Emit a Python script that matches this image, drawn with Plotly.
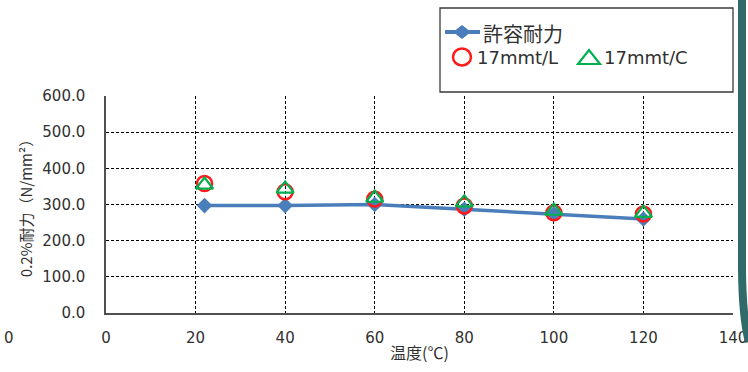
import plotly.graph_objects as go

# Temperature (°C) and 0.2% proof stress (N/mm²)
temp_allow = [22, 40, 60, 80, 100, 120]
allowable = [297, 297, 300, 287, 274, 260]

temp_test = [22, 40, 60, 80, 100, 120]
stress_L = [358, 335, 315, 296, 277, 274]
stress_C = [354, 343, 318, 305, 282, 276]

x_ticks = [0, 20, 40, 60, 80, 100, 120, 140]
y_ticks = [0, 100, 200, 300, 400, 500, 600]

W, H = 748, 372
ML, MR, MT, MB = 106, 15, 96, 59
PW, PH = W - ML - MR, H - MT - MB

BLUE = "#4A7EBB"
RED = "#FF1A1A"
GREEN = "#00B050"
TEXT = "#303030"
NUM_FONT = "DejaVu Sans"
JP_FONT = "Noto Sans CJK JP"


def px(x):
    return (x - ML) / PW


def py(y):
    return (H - MB - y) / PH


fig = go.Figure()

fig.add_trace(go.Scatter(
    x=temp_allow, y=allowable, mode="lines+markers", name="許容耐力",
    line=dict(color=BLUE, width=3.5),
    marker=dict(symbol="diamond", size=12, color=BLUE),
    showlegend=False,
))
fig.add_trace(go.Scatter(
    x=temp_test, y=stress_L, mode="markers", name="17mmt/L",
    marker=dict(symbol="circle-open", size=15, color=RED, line=dict(width=2.5, color=RED)),
    showlegend=False,
))
fig.add_trace(go.Scatter(
    x=temp_test, y=stress_C, mode="markers", name="17mmt/C",
    marker=dict(symbol="triangle-up-open", size=15, color=GREEN, line=dict(width=2.2, color=GREEN)),
    showlegend=False,
))

shapes = []
annotations = []

# Legend box
shapes.append(dict(type="rect", xref="paper", yref="paper",
                   x0=px(440), x1=px(733), y0=py(92), y1=py(8),
                   line=dict(color="#3A3A3A", width=1.3), fillcolor="white", layer="above"))
# Legend: allowable stress (line + diamond)
shapes.append(dict(type="line", xref="paper", yref="paper",
                   x0=px(445), x1=px(480), y0=py(32), y1=py(32),
                   line=dict(color=BLUE, width=4), layer="above"))
cx, cy = 462, 32
shapes.append(dict(type="path", xref="paper", yref="paper",
                   path=f"M {px(cx-9)},{py(cy)} L {px(cx)},{py(cy-7)} L {px(cx+9)},{py(cy)} L {px(cx)},{py(cy+7)} Z",
                   fillcolor=BLUE, line=dict(width=0), layer="above"))
# Legend: circle
shapes.append(dict(type="circle", xref="paper", yref="paper",
                   x0=px(453), x1=px(471), y0=py(65.5), y1=py(48.5),
                   line=dict(color=RED, width=2.5), layer="above"))
# Legend: triangle
shapes.append(dict(type="path", xref="paper", yref="paper",
                   path=f"M {px(578)},{py(64)} L {px(600)},{py(64)} L {px(589)},{py(50)} Z",
                   line=dict(color=GREEN, width=2.2), layer="above"))

annotations.append(dict(x=px(481), y=py(33), xref="paper", yref="paper", text="許容耐力",
                        showarrow=False, xanchor="left", yanchor="middle",
                        font=dict(family=JP_FONT, size=20, color=TEXT)))
annotations.append(dict(x=px(475), y=py(57.5), xref="paper", yref="paper", text="17mmt/L",
                        showarrow=False, xanchor="left", yanchor="middle",
                        font=dict(family=NUM_FONT, size=18, color=TEXT)))
annotations.append(dict(x=px(602), y=py(57.5), xref="paper", yref="paper", text="17mmt/C",
                        showarrow=False, xanchor="left", yanchor="middle",
                        font=dict(family=NUM_FONT, size=18, color=TEXT)))

# Stray axis label at the left edge
annotations.append(dict(x=px(2), y=py(338), xref="paper", yref="paper", text="0",
                        showarrow=False, xanchor="left", yanchor="middle",
                        font=dict(family=NUM_FONT, size=15, color=TEXT)))

# Slide frame border on the right
shapes.append(dict(type="path", xref="paper", yref="paper",
                   path=f"M {px(742)},{py(-5)} L {px(742)},{py(270)} Q {px(742.5)},{py(318)} {px(749)},{py(342)}",
                   line=dict(color="#316B69", width=8), layer="above"))

fig.update_layout(
    width=W, height=H,
    margin=dict(l=ML, r=MR, t=MT, b=MB, pad=0, autoexpand=False),
    paper_bgcolor="white", plot_bgcolor="white",
    shapes=shapes, annotations=annotations,
    showlegend=False,
)

fig.update_xaxes(
    range=[0, 140], tickvals=x_ticks, ticktext=[str(v) for v in x_ticks],
    showgrid=True, gridcolor="black", gridwidth=1, griddash="3px,2px",
    showline=True, linecolor="#505050", linewidth=1.5, zeroline=False,
    ticks="", ticklabelstandoff=10, automargin=False,
    tickfont=dict(family=NUM_FONT, size=15, color=TEXT),
    title=dict(text="温度(℃)", font=dict(family=JP_FONT, size=16, color=TEXT), standoff=2),
)
fig.update_yaxes(
    range=[0, 600], tickvals=y_ticks, ticktext=[f"{v:.1f}" for v in y_ticks],
    showgrid=True, gridcolor="black", gridwidth=1, griddash="3px,2px",
    showline=True, linecolor="#505050", linewidth=1.5, zeroline=False,
    ticks="", ticklabelstandoff=16, automargin=False,
    tickfont=dict(family=NUM_FONT, size=15, color=TEXT),
    title=dict(text="0.2%耐力（N/mm²）", font=dict(family=JP_FONT, size=15, color=TEXT), standoff=6),
)

fig.write_html("out.html")
